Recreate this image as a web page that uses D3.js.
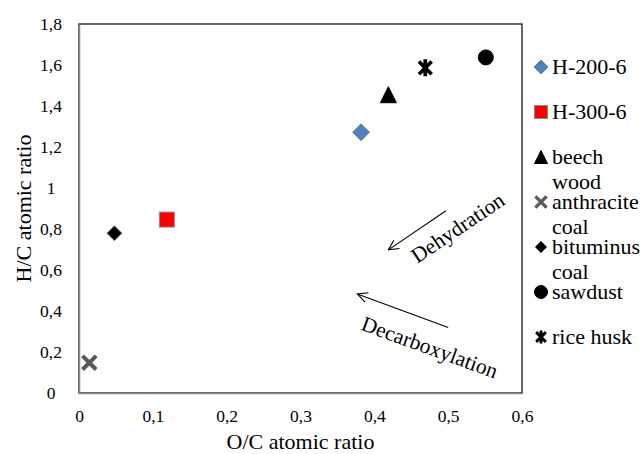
<!DOCTYPE html>
<html>
<head>
<meta charset="utf-8">
<script src="https://cdn.jsdelivr.net/npm/d3@7"></script>
<style>
  html, body { margin: 0; padding: 0; background: #fff; }
  svg text { font-family: "Liberation Serif", "Times New Roman", "DejaVu Serif", "Noto Serif", serif; }
</style>
</head>
<body>
<svg id="chart" width="643" height="454"></svg>
<script>
// ---- data ----
const seriesNames = ["H-200-6", "H-300-6", "beech wood", "anthracite coal", "bituminus coal", "sawdust", "rice husk"];
const legendLines = [["H-200-6"], ["H-300-6"], ["beech", "wood"], ["anthracite", "coal"], ["bituminus", "coal"], ["sawdust"], ["rice husk"]];
const ocRatio = [0.382, 0.119, 0.419, 0.014, 0.048, 0.551, 0.469];
const hcRatio = [1.272, 0.846, 1.455, 0.148, 0.779, 1.637, 1.586];
const xTicks = [0, 0.1, 0.2, 0.3, 0.4, 0.5, 0.6];
const yTicks = [0, 0.2, 0.4, 0.6, 0.8, 1, 1.2, 1.4, 1.6, 1.8];
const annotations = [
  { text: "Dehydration", x1: 0.497, y1: 0.889, x2: 0.419, y2: 0.698, tx: 0.513, ty: 0.805, angle: -34 },
  { text: "Decarboxylation", x1: 0.500, y1: 0.320, x2: 0.377, y2: 0.483, tx: 0.475, ty: 0.222, angle: 20 }
];

// ---- styles ----
const markerStyle = [
  { type: "diamond", fill: "#4F81BD", stroke: "#7f7f7f", size: 17, lsize: 14 },
  { type: "square", fill: "#FF0000", stroke: "#8c8c8c", size: 15, lsize: 13 },
  { type: "triangle", fill: "#000", stroke: "#000", size: 16, lsize: 13 },
  { type: "x", fill: "none", stroke: "#595959", size: 17, lsize: 14 },
  { type: "diamond", fill: "#000", stroke: "#7f7f7f", size: 15, lsize: 12 },
  { type: "circle", fill: "#000", stroke: "#000", size: 15, lsize: 13 },
  { type: "star", fill: "none", stroke: "#000", size: 17, lsize: 13 }
];
const FONT = '"Liberation Serif", "Times New Roman", "DejaVu Serif", serif';

const svg = d3.select("#chart");
const margin = { left: 79, top: 24, right: 121, bottom: 61 };
const W = 643, H = 454;
const x = d3.scaleLinear().domain([0, 0.6]).range([margin.left, W - margin.right]);
const y = d3.scaleLinear().domain([0, 1.8]).range([H - margin.bottom, margin.top]);

// plot border (top/right black)
svg.append("rect")
  .attr("x", x(0)).attr("y", y(1.8))
  .attr("width", x(0.6) - x(0)).attr("height", y(0) - y(1.8))
  .attr("fill", "none").attr("stroke", "#000").attr("stroke-width", 1.2);

// axes
const fmt = d => String(d).replace(".", ",");
const xAxis = d3.axisBottom(x).tickValues(xTicks).tickSize(0).tickFormat(fmt);
const yAxis = d3.axisLeft(y).tickValues(yTicks).tickSize(0).tickFormat(fmt);

const gx = svg.append("g").attr("transform", `translate(0,${y(0)})`).call(xAxis);
const gy = svg.append("g").attr("transform", `translate(${x(0)},0)`).call(yAxis);
[gx, gy].forEach(g => {
  g.attr("font-family", null).attr("font-size", null);
  g.select(".domain").attr("stroke", "#868686").attr("stroke-width", 1.5);
  g.selectAll("text").style("font-family", FONT).style("font-size", "17.5px").attr("fill", "#000");
});
gx.selectAll("text").attr("y", 29).attr("dy", 0);
gy.selectAll("text").attr("x", -28).attr("text-anchor", "middle").attr("dy", "0.34em");

// axis titles
svg.append("text").attr("x", (x(0) + x(0.6)) / 2).attr("y", 449)
  .attr("text-anchor", "middle").style("font-size", "22px").text("O/C atomic ratio");
svg.append("text").attr("transform", `translate(31,${(y(0) + y(1.8)) / 2}) rotate(-90)`)
  .attr("text-anchor", "middle").style("font-size", "22px").text("H/C atomic ratio");

// marker drawing
function drawMarker(g, st, s) {
  const h = s / 2;
  if (st.type === "diamond") {
    g.append("path").attr("d", `M0,${-h}L${h},0L0,${h}L${-h},0Z`)
      .attr("fill", st.fill).attr("stroke", st.stroke).attr("stroke-width", 1);
  } else if (st.type === "square") {
    g.append("rect").attr("x", -h).attr("y", -h).attr("width", s).attr("height", s)
      .attr("fill", st.fill).attr("stroke", st.stroke).attr("stroke-width", 1);
  } else if (st.type === "triangle") {
    g.append("path").attr("d", `M0,${-h}L${h},${h}L${-h},${h}Z`)
      .attr("fill", st.fill).attr("stroke", st.stroke).attr("stroke-width", 1);
  } else if (st.type === "circle") {
    g.append("circle").attr("r", h).attr("fill", st.fill).attr("stroke", st.stroke);
  } else if (st.type === "x") {
    const a = h * 0.8;
    g.append("path").attr("d", `M${-a},${-a}L${a},${a}M${a},${-a}L${-a},${a}`)
      .attr("stroke", st.stroke).attr("stroke-width", s * 0.24).attr("fill", "none");
  } else if (st.type === "star") {
    const a = h * 0.75;
    g.append("path").attr("d", `M${-a},${-a}L${a},${a}M${a},${-a}L${-a},${a}M0,${-h}L0,${h}`)
      .attr("stroke", st.stroke).attr("stroke-width", s * 0.22).attr("fill", "none");
  }
}

// points
seriesNames.forEach((name, i) => {
  const g = svg.append("g").attr("transform", `translate(${x(ocRatio[i])},${y(hcRatio[i])})`);
  drawMarker(g, markerStyle[i], markerStyle[i].size);
});

// annotations
svg.append("defs").append("marker")
  .attr("id", "arrow").attr("viewBox", "0 0 12 12").attr("refX", 11).attr("refY", 6)
  .attr("markerWidth", 12).attr("markerHeight", 12).attr("markerUnits", "userSpaceOnUse")
  .attr("orient", "auto")
  .append("path").attr("d", "M1,1L11,6L1,11").attr("fill", "none").attr("stroke", "#000").attr("stroke-width", 1.1);

annotations.forEach(a => {
  svg.append("line")
    .attr("x1", x(a.x1)).attr("y1", y(a.y1)).attr("x2", x(a.x2)).attr("y2", y(a.y2))
    .attr("stroke", "#000").attr("stroke-width", 1.1)
    .attr("marker-end", "url(#arrow)");
  svg.append("text")
    .attr("transform", `translate(${x(a.tx)},${y(a.ty)}) rotate(${a.angle})`)
    .attr("text-anchor", "middle").attr("dominant-baseline", "central")
    .style("font-size", "21.5px").text(a.text);
});

// legend
const legendTop = 67, legendStep = 45, lineH = 25;
seriesNames.forEach((name, i) => {
  const cy = legendTop + i * legendStep;
  const g = svg.append("g").attr("transform", `translate(541,${cy})`);
  drawMarker(g, markerStyle[i], markerStyle[i].lsize);
  const t = svg.append("text").attr("x", 552).attr("y", cy + 7).style("font-size", "22px");
  legendLines[i].forEach((ln, j) => {
    t.append("tspan").attr("x", 552).attr("dy", j === 0 ? 0 : lineH).text(ln);
  });
});
</script>
</body>
</html>
